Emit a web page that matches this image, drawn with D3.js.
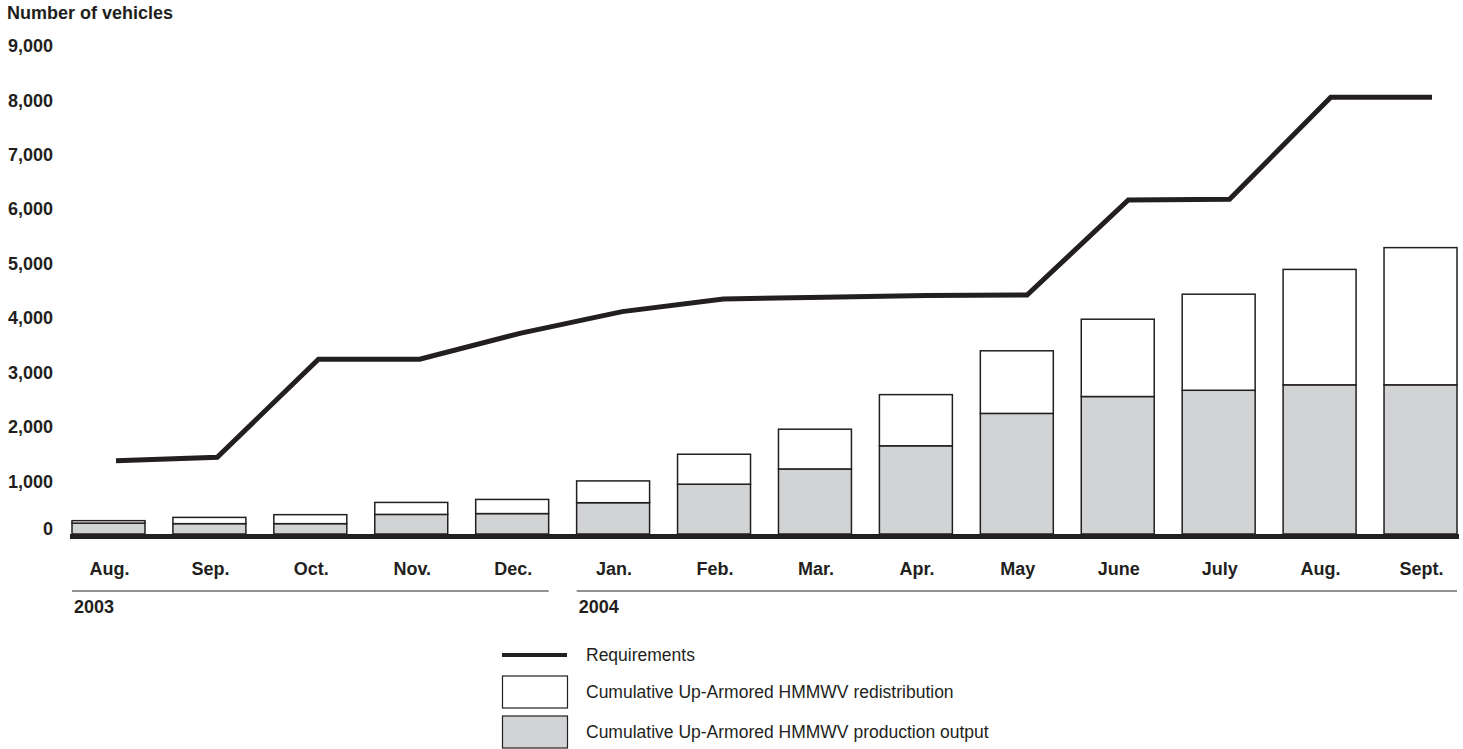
<!DOCTYPE html>
<html>
<head>
<meta charset="utf-8">
<script src="https://cdn.jsdelivr.net/npm/d3@7"></script>
<style>
  html, body { margin: 0; padding: 0; background: #fff; }
  svg { display: block; font-family: "Liberation Sans", Arial, Helvetica, sans-serif; }
</style>
</head>
<body>
<svg id="chart" width="1463" height="749"></svg>
<script>
// ---- data ----
const months = ["Aug.", "Sep.", "Oct.", "Nov.", "Dec.", "Jan.", "Feb.", "Mar.", "Apr.", "May", "June", "July", "Aug.", "Sept."];
const years = [
  { label: "2003", from: 0, to: 4 },
  { label: "2004", from: 5, to: 13 }
];
const production = [200, 190, 190, 360, 375, 575, 915, 1195, 1620, 2215, 2525, 2640, 2740, 2740];
const redistribution = [45, 115, 165, 220, 260, 400, 550, 730, 940, 1150, 1420, 1765, 2120, 2520];
const requirements = [1345, 1410, 3210, 3210, 3690, 4085, 4315, 4350, 4380, 4390, 6135, 6150, 8020, 8020];
const yTicks = [0, 1000, 2000, 3000, 4000, 5000, 6000, 7000, 8000, 9000];
const legendItems = [
  { type: "line", label: "Requirements" },
  { type: "white", label: "Cumulative Up-Armored HMMWV redistribution" },
  { type: "gray", label: "Cumulative Up-Armored HMMWV production output" }
];

// ---- styles ----
const ink = "#231f20";
const grayFill = "#d1d3d4";
const svg = d3.select("#chart");

const idx = months.map((_, i) => i);
const x = d3.scaleBand().domain(idx).range([72, 1457]).paddingInner(0.277).paddingOuter(0);
const xLine = d3.scalePoint().domain(idx).range([116, 1432]);
const y = d3.scaleLinear().domain([0, 9000]).range([534, 44]);

// title
svg.append("text").attr("x", 7).attr("y", 19)
  .attr("font-size", 18).attr("font-weight", "bold").attr("fill", ink)
  .text("Number of vehicles");

// y axis labels
const yAxis = d3.axisLeft(y).tickValues(yTicks).tickFormat(d3.format(",")).tickSize(0).tickPadding(0);
const yg = svg.append("g").attr("transform", "translate(53,0)").call(yAxis);
yg.select(".domain").remove();
yg.selectAll("text")
  .attr("font-size", 18).attr("font-weight", "bold").attr("fill", ink)
  .attr("font-family", "'Liberation Sans', Arial, sans-serif")
  .attr("dy", d => d === 0 ? "0em" : "0.42em");

// bars
const bars = svg.append("g");
idx.forEach(i => {
  const p = production[i], r = redistribution[i];
  bars.append("rect")
    .attr("x", x(i)).attr("width", x.bandwidth())
    .attr("y", y(p)).attr("height", y(0) - y(p))
    .attr("fill", grayFill).attr("stroke", ink).attr("stroke-width", 1.5);
  bars.append("rect")
    .attr("x", x(i)).attr("width", x.bandwidth())
    .attr("y", y(p + r)).attr("height", y(p) - y(p + r))
    .attr("fill", "#fff").attr("stroke", ink).attr("stroke-width", 1.5);
});

// baseline
svg.append("line")
  .attr("x1", x(0) - 2).attr("x2", x(13) + x.bandwidth() + 2)
  .attr("y1", y(0) + 2.5).attr("y2", y(0) + 2.5)
  .attr("stroke", ink).attr("stroke-width", 5);

// requirements line
const line = d3.line().x((d, i) => xLine(i)).y(d => y(d));
svg.append("path").datum(requirements)
  .attr("d", line).attr("fill", "none")
  .attr("stroke", ink).attr("stroke-width", 5)
  .attr("stroke-linejoin", "miter").attr("stroke-linecap", "butt");

// x axis month labels
const xAxis = d3.axisBottom(x).tickFormat(i => months[i]).tickSize(0).tickPadding(0);
const xg = svg.append("g").attr("transform", "translate(1,575)").call(xAxis);
xg.select(".domain").remove();
xg.selectAll("text")
  .attr("font-size", 18).attr("font-weight", "bold").attr("fill", ink)
  .attr("font-family", "'Liberation Sans', Arial, sans-serif")
  .attr("dy", 0);

// year separators
years.forEach(yr => {
  const x1 = x(yr.from), x2 = x(yr.to) + x.bandwidth();
  svg.append("line").attr("x1", x1).attr("x2", x2).attr("y1", 591).attr("y2", 591)
    .attr("stroke", "#6d6e71").attr("stroke-width", 1.5);
  svg.append("text").attr("x", x1 + 2).attr("y", 613)
    .attr("font-size", 18).attr("font-weight", "bold").attr("fill", ink)
    .text(yr.label);
});

// legend
const lg = svg.append("g").attr("transform", "translate(502,0)");
const rowsY = [655, 692, 732];
legendItems.forEach((it, k) => {
  const cy = rowsY[k];
  if (it.type === "line") {
    lg.append("line").attr("x1", 0).attr("x2", 65).attr("y1", cy).attr("y2", cy)
      .attr("stroke", ink).attr("stroke-width", 4);
  } else {
    lg.append("rect").attr("x", 0.5).attr("y", cy - 16).attr("width", 65).attr("height", 32)
      .attr("fill", it.type === "gray" ? grayFill : "#fff")
      .attr("stroke", ink).attr("stroke-width", 1.2);
  }
  lg.append("text").attr("x", 84).attr("y", cy + 6)
    .attr("font-size", 17.5).attr("fill", ink).text(it.label);
});
</script>
</body>
</html>
